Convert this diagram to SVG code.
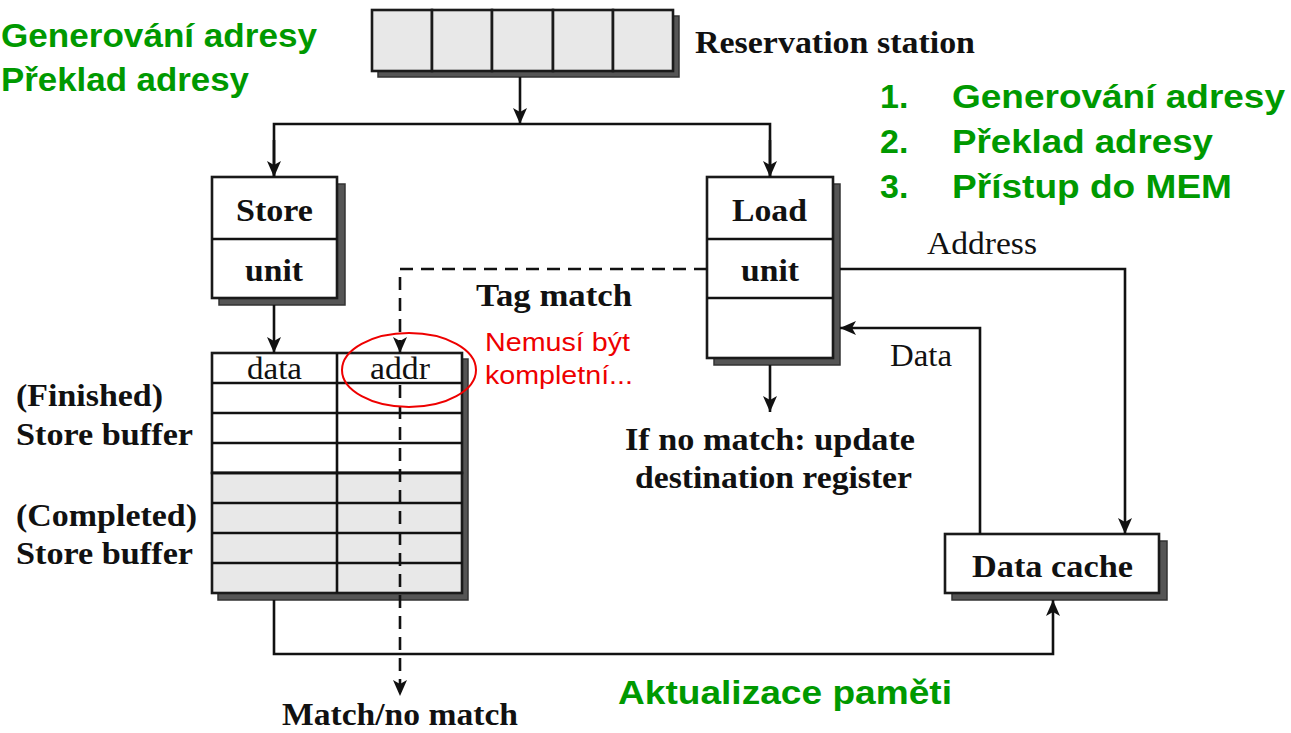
<svg xmlns="http://www.w3.org/2000/svg" width="1291" height="733" viewBox="0 0 1291 733">
<style>
.bx{fill:#fff;stroke:#1a1a1a;stroke-width:2.6}
.gy{fill:#e8e8e8;stroke:#1a1a1a;stroke-width:2.6}
.sh{fill:#555;stroke:#333;stroke-width:1.5}
.ln{fill:none;stroke:#111;stroke-width:2.6}
.ds{fill:none;stroke:#111;stroke-width:2.6;stroke-dasharray:13 8}
.tb{font-family:"Liberation Serif",serif;font-weight:bold;font-size:31px;fill:#111}
.tr{font-family:"Liberation Serif",serif;font-size:31px;fill:#111}
.gr{font-family:"Liberation Sans",sans-serif;font-weight:bold;font-size:34px;fill:#009900}
.rd{font-family:"Liberation Sans",sans-serif;font-size:25px;fill:#ee0000}
</style>
<defs>
<marker id="ah" viewBox="0 0 16 14" refX="16" refY="7" markerWidth="16" markerHeight="14" markerUnits="userSpaceOnUse" orient="auto">
<path d="M0,0 L16,7 L0,14 L4,7 Z" fill="#111"/>
</marker>
</defs>
<rect width="1291" height="733" fill="#fff"/>

<g id="reservation-station">
<rect class="sh" x="378" y="16" width="301" height="61"/>
<rect class="gy" x="372" y="10" width="60" height="61"/>
<rect class="gy" x="432" y="10" width="60" height="61"/>
<rect class="gy" x="492" y="10" width="61" height="61"/>
<rect class="gy" x="553" y="10" width="60" height="61"/>
<rect class="gy" x="613" y="10" width="60" height="61"/>
<text class="tb" x="695" y="53" textLength="280" lengthAdjust="spacingAndGlyphs">Reservation station</text>
</g>

<g id="store-unit">
<rect class="sh" x="219" y="184" width="126" height="121"/>
<rect class="bx" x="212" y="177" width="125" height="121"/>
<line class="ln" x1="212" y1="239" x2="337" y2="239"/>
<text class="tb" x="236" y="221" textLength="77" lengthAdjust="spacingAndGlyphs">Store</text>
<text class="tb" x="245" y="281" textLength="58" lengthAdjust="spacingAndGlyphs">unit</text>
</g>

<g id="load-unit">
<rect class="sh" x="714" y="184" width="126" height="181"/>
<rect class="bx" x="707" y="177" width="126" height="181"/>
<line class="ln" x1="707" y1="239" x2="833" y2="239"/>
<line class="ln" x1="707" y1="298" x2="833" y2="298"/>
<text class="tb" x="732" y="221" textLength="75" lengthAdjust="spacingAndGlyphs">Load</text>
<text class="tb" x="741" y="281" textLength="58" lengthAdjust="spacingAndGlyphs">unit</text>
</g>

<g id="store-buffer">
<rect class="sh" x="218" y="359" width="250" height="241"/>
<rect class="bx" x="212" y="353" width="250" height="120"/>
<rect class="gy" x="212" y="473" width="250" height="120"/>
<line class="ln" x1="337" y1="353" x2="337" y2="593"/>
<line class="ln" x1="212" y1="383" x2="462" y2="383"/>
<line class="ln" x1="212" y1="413" x2="462" y2="413"/>
<line class="ln" x1="212" y1="443" x2="462" y2="443"/>
<line class="ln" x1="212" y1="473" x2="462" y2="473"/>
<line class="ln" x1="212" y1="503" x2="462" y2="503"/>
<line class="ln" x1="212" y1="533" x2="462" y2="533"/>
<line class="ln" x1="212" y1="563" x2="462" y2="563"/>
<text class="tr" x="247" y="379" textLength="55" lengthAdjust="spacingAndGlyphs">data</text>
<text class="tr" x="370" y="379" textLength="60" lengthAdjust="spacingAndGlyphs">addr</text>
<text class="tb" x="16" y="406" textLength="147" lengthAdjust="spacingAndGlyphs">(Finished)</text>
<text class="tb" x="16" y="445" textLength="177" lengthAdjust="spacingAndGlyphs">Store buffer</text>
<text class="tb" x="16" y="526" textLength="181" lengthAdjust="spacingAndGlyphs">(Completed)</text>
<text class="tb" x="16" y="564" textLength="177" lengthAdjust="spacingAndGlyphs">Store buffer</text>
</g>

<g id="data-cache">
<rect class="sh" x="952" y="541" width="215" height="59"/>
<rect class="bx" x="945" y="534" width="214" height="59"/>
<text class="tb" x="972" y="577" textLength="161" lengthAdjust="spacingAndGlyphs">Data cache</text>
</g>

<g id="connectors">
<line class="ln" x1="520" y1="77" x2="520" y2="124" marker-end="url(#ah)"/>
<polyline class="ln" points="274,177 274,124 770,124 770,177" />
<line class="ln" x1="274" y1="140" x2="274" y2="177" marker-end="url(#ah)"/>
<line class="ln" x1="770" y1="140" x2="770" y2="177" marker-end="url(#ah)"/>
<line class="ln" x1="274" y1="305" x2="274" y2="353" marker-end="url(#ah)"/>
<polyline class="ds" points="707,269 400,269 400,353" marker-end="url(#ah)"/>
<line class="ds" x1="400" y1="385" x2="400" y2="696" marker-end="url(#ah)"/>
<line class="ln" x1="770" y1="365" x2="770" y2="412" marker-end="url(#ah)"/>
<polyline class="ln" points="840,269 1125,269 1125,534" marker-end="url(#ah)"/>
<polyline class="ln" points="980,534 980,328 840,328" marker-end="url(#ah)"/>
<polyline class="ln" points="274,600 274,654 1053,654 1053,600" marker-end="url(#ah)"/>
</g>

<g id="labels">
<text class="tb" x="476" y="306" textLength="156" lengthAdjust="spacingAndGlyphs">Tag match</text>
<text class="tr" x="927" y="254" textLength="110" lengthAdjust="spacingAndGlyphs">Address</text>
<text class="tr" x="890" y="366" textLength="62" lengthAdjust="spacingAndGlyphs">Data</text>
<text class="tb" x="625" y="450" textLength="290" lengthAdjust="spacingAndGlyphs">If no match: update</text>
<text class="tb" x="635" y="488" textLength="277" lengthAdjust="spacingAndGlyphs">destination register</text>
<text class="tb" x="282" y="725" textLength="236" lengthAdjust="spacingAndGlyphs">Match/no match</text>
</g>

<g id="annotations">
<ellipse cx="409" cy="370" rx="67" ry="37" fill="none" stroke="#ee0000" stroke-width="2"/>
<text class="rd" x="485" y="351" textLength="145" lengthAdjust="spacingAndGlyphs">Nemusí být</text>
<text class="rd" x="485" y="384" textLength="148" lengthAdjust="spacingAndGlyphs">kompletní...</text>
<text class="gr" x="1" y="47" textLength="316" lengthAdjust="spacingAndGlyphs">Generování adresy</text>
<text class="gr" x="1" y="91" textLength="248" lengthAdjust="spacingAndGlyphs">Překlad adresy</text>
<text class="gr" x="880" y="108">1.</text>
<text class="gr" x="952" y="108" textLength="333" lengthAdjust="spacingAndGlyphs">Generování adresy</text>
<text class="gr" x="880" y="153">2.</text>
<text class="gr" x="952" y="153" textLength="261" lengthAdjust="spacingAndGlyphs">Překlad adresy</text>
<text class="gr" x="880" y="198">3.</text>
<text class="gr" x="952" y="198" textLength="280" lengthAdjust="spacingAndGlyphs">Přístup do MEM</text>
<text class="gr" x="618" y="704" textLength="334" lengthAdjust="spacingAndGlyphs">Aktualizace paměti</text>
</g>
</svg>
